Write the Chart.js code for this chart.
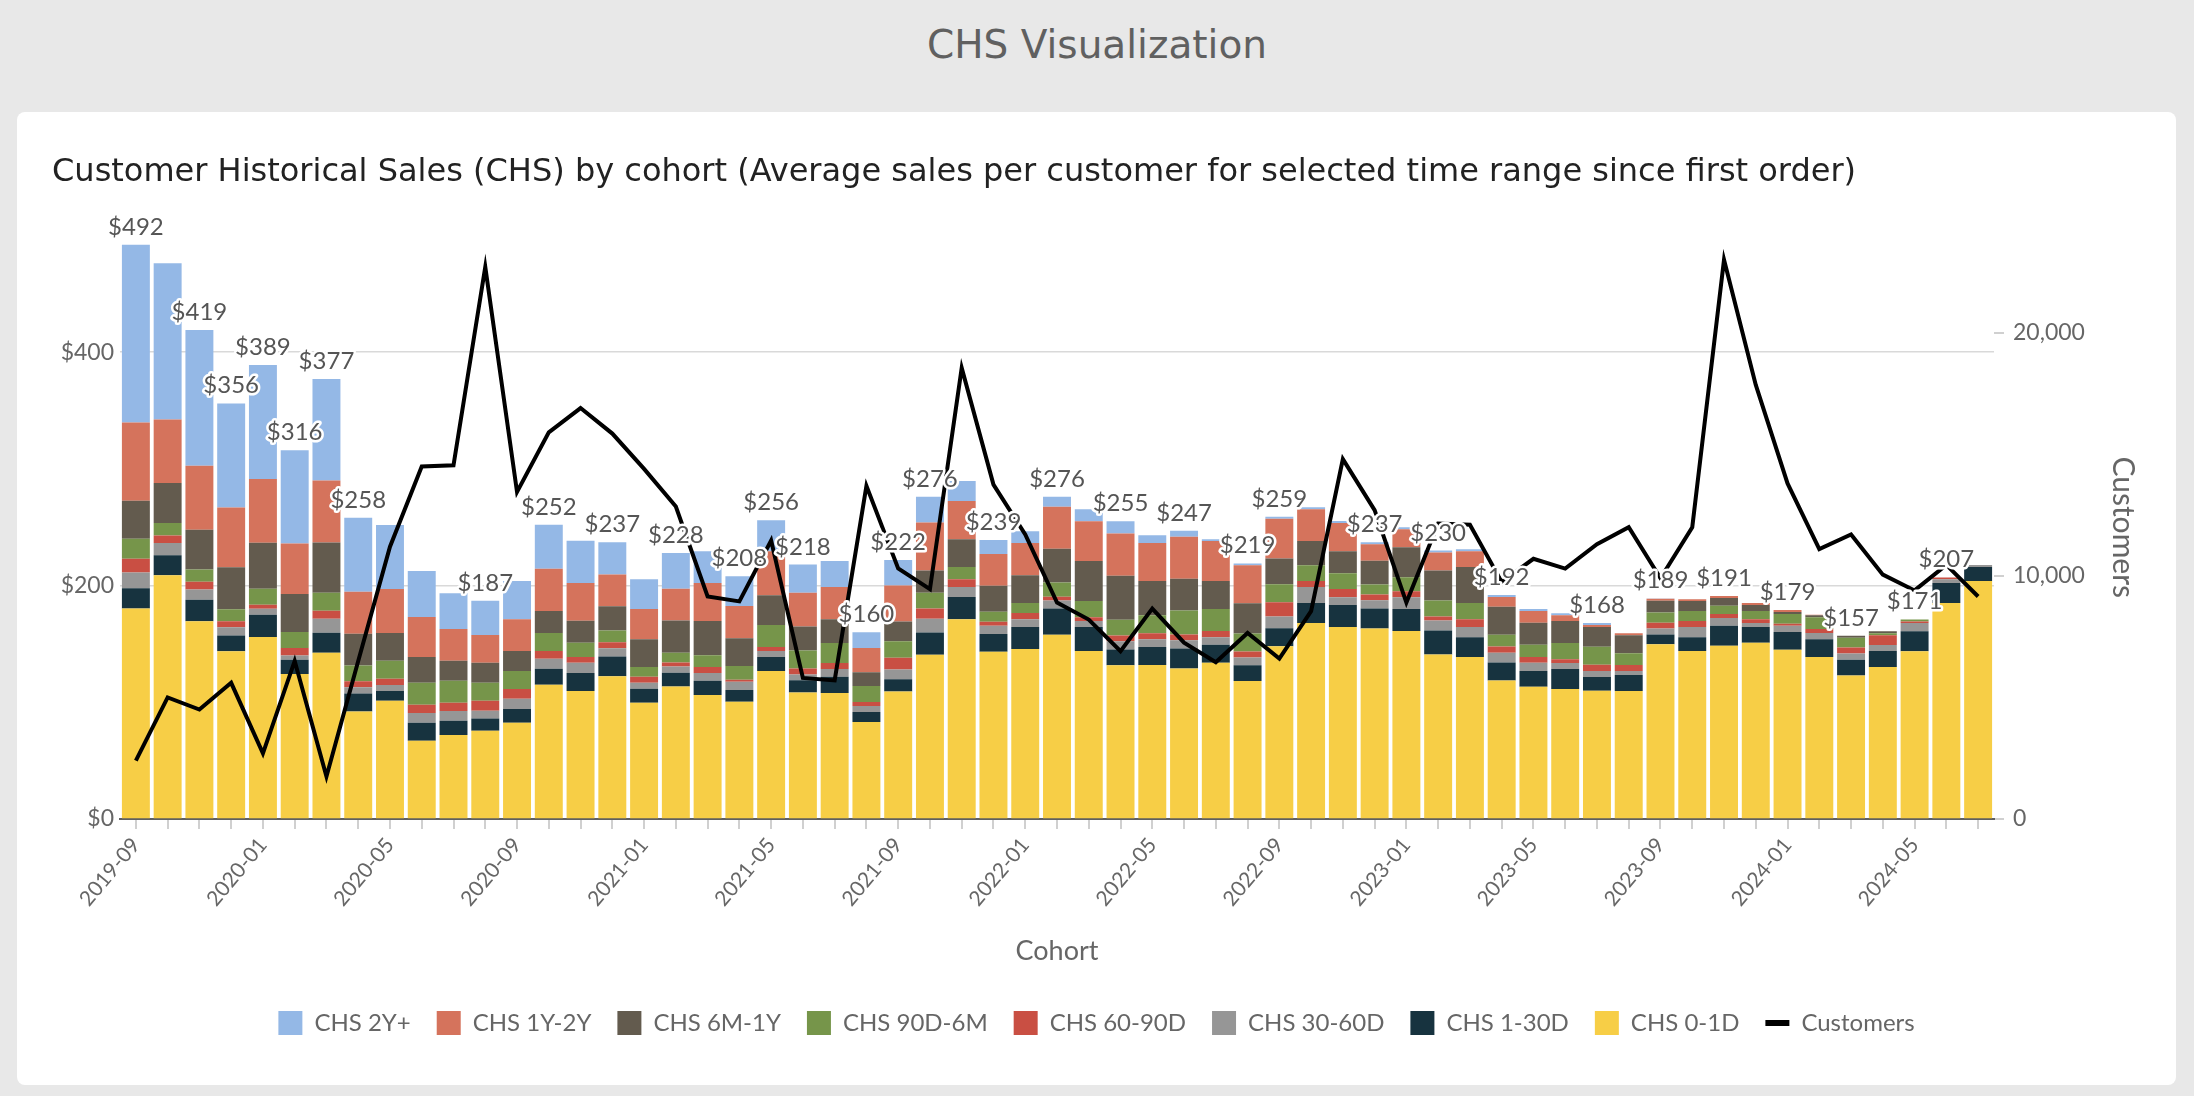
<!DOCTYPE html>
<html>
<head>
<meta charset="utf-8">
<script src="https://cdn.jsdelivr.net/npm/chart.js@4.4.1/dist/chart.umd.min.js"></script>
<style>
    html, body {
        margin: 0;
        padding: 0;
        background: #e8e8e8;
    }
    body {
        width: 2194px;
        height: 1096px;
        position: relative;
        overflow: hidden;
    }
    h1 {
        position: absolute;
        left: 0;
        top: 20px;
        width: 2194px;
        margin: 0;
        text-align: center;
        font-family: "DejaVu Sans", sans-serif;
        font-weight: 400;
        font-size: 39px;
        line-height: 50px;
        color: #606060;
    }
    .card {
        position: absolute;
        left: 17px;
        top: 112px;
        width: 2159px;
        height: 973px;
        background: #ffffff;
        border-radius: 8px;
    }
</style>
</head>
<body>
<h1>CHS Visualization</h1>
<div class="card">
    <canvas id="chsChart" width="2159" height="973"></canvas>
</div>
<script>
const cohorts = [
    "2019-09", "2019-10", "2019-11", "2019-12",
    "2020-01", "2020-02", "2020-03", "2020-04", "2020-05", "2020-06",
    "2020-07", "2020-08", "2020-09", "2020-10", "2020-11", "2020-12",
    "2021-01", "2021-02", "2021-03", "2021-04", "2021-05", "2021-06",
    "2021-07", "2021-08", "2021-09", "2021-10", "2021-11", "2021-12",
    "2022-01", "2022-02", "2022-03", "2022-04", "2022-05", "2022-06",
    "2022-07", "2022-08", "2022-09", "2022-10", "2022-11", "2022-12",
    "2023-01", "2023-02", "2023-03", "2023-04", "2023-05", "2023-06",
    "2023-07", "2023-08", "2023-09", "2023-10", "2023-11", "2023-12",
    "2024-01", "2024-02", "2024-03", "2024-04", "2024-05", "2024-06",
    "2024-07"
];

// average sales per customer, one array per age bucket
const chs2YPlus = [
    152.3, 133.8, 116.3, 89.1, 97.8, 80.0, 87.0, 63.2, 54.8, 39.5,
    30.7, 29.3, 32.8, 37.7, 36.0, 27.6, 25.5, 30.7, 27.2, 25.5,
    26.5, 24.1, 22.4, 13.6, 22.0, 22.0, 17.1, 11.9, 10.1, 8.4,
    10.1, 10.5, 6.6, 5.2, 1.4, 1.7, 1.7, 1.7, 1.7, 1.7,
    1.7, 1.7, 1.7, 1.7, 1.7, 1.7, 1.7, 0, 0.3, 0,
    0, 0, 0, 0, 0, 0, 0, 0, 0
];
const chs1Y2Y = [
    67.1, 54.5, 54.8, 51.3, 54.5, 43.3, 53.1, 36.0, 37.7, 34.2,
    27.2, 23.8, 27.2, 36.0, 32.5, 27.2, 25.8, 27.2, 32.5, 27.6,
    37.7, 29.0, 27.6, 20.6, 30.7, 41.2, 32.8, 27.2, 27.6, 36.0,
    34.2, 36.0, 32.5, 36.0, 34.2, 32.5, 34.2, 27.2, 24.1, 14.0,
    15.4, 15.4, 13.6, 8.4, 10.1, 4.9, 1.7, 1.7, 1.7, 1.4,
    1.7, 1.7, 1.7, 0.3, 0, 0, 0, 0, 0
];
const chs6M1Y = [
    32.5, 34.2, 34.2, 36.0, 39.5, 32.5, 43.0, 27.2, 23.8, 22.0,
    17.1, 17.1, 17.1, 18.9, 18.9, 20.6, 23.8, 27.6, 29.3, 23.8,
    25.5, 20.6, 20.3, 11.9, 17.1, 18.9, 23.8, 22.4, 23.8, 29.0,
    34.2, 37.7, 29.3, 27.2, 24.1, 25.8, 22.0, 20.6, 18.9, 20.3,
    25.8, 25.8, 30.7, 24.1, 18.9, 18.9, 17.1, 15.4, 10.1, 8.7,
    6.6, 5.2, 1.7, 1.7, 1.7, 1.7, 0, 0, 0
];
const chs90D6M = [
    17.1, 10.8, 10.5, 10.1, 13.6, 13.6, 15.4, 13.6, 15.4, 18.9,
    18.9, 15.4, 15.4, 15.4, 12.2, 10.1, 8.4, 8.4, 10.1, 11.9,
    18.9, 15.4, 17.1, 13.6, 14.0, 13.6, 10.5, 8.4, 8.7, 12.2,
    14.0, 13.6, 15.4, 20.6, 18.9, 15.4, 15.4, 13.6, 13.6, 8.7,
    11.9, 13.6, 14.0, 10.1, 10.5, 14.0, 15.4, 10.1, 8.7, 8.4,
    7.0, 7.0, 8.4, 10.1, 8.4, 1.7, 1.7, 0, 0
];
const chs60D90D = [
    11.9, 6.3, 6.6, 5.2, 3.5, 6.6, 7.0, 5.2, 5.2, 7.0,
    7.0, 8.7, 8.4, 6.6, 4.9, 5.2, 5.2, 3.5, 5.2, 1.7,
    3.5, 5.2, 5.2, 3.5, 10.1, 8.7, 6.6, 3.5, 5.2, 3.1,
    3.1, 4.9, 5.2, 4.9, 5.2, 5.2, 12.2, 5.2, 7.0, 4.9,
    5.2, 3.5, 6.6, 5.2, 4.9, 3.1, 5.2, 5.2, 4.9, 5.2,
    3.5, 3.1, 1.7, 3.5, 5.2, 8.4, 1.4, 1.7, 0
];
const chs30D60D = [
    13.3, 10.5, 8.7, 7.0, 5.2, 3.5, 11.9, 5.2, 5.2, 8.4,
    8.4, 6.6, 8.7, 8.7, 8.7, 7.0, 5.2, 5.2, 6.6, 7.0,
    5.2, 4.9, 6.6, 5.2, 8.4, 11.9, 8.7, 7.0, 6.6, 7.0,
    5.2, 7.0, 6.6, 7.0, 6.6, 6.6, 10.1, 13.6, 6.6, 7.0,
    10.1, 8.4, 8.7, 8.4, 7.0, 5.2, 5.2, 3.5, 5.2, 8.7,
    6.6, 3.5, 5.2, 5.2, 5.2, 5.2, 7.0, 3.1, 1.7
];
const chs1D30D = [
    17.5, 17.1, 18.5, 13.6, 18.9, 12.2, 17.1, 15.4, 8.4, 15.4,
    12.2, 10.5, 11.9, 13.6, 15.4, 17.1, 11.9, 11.9, 12.2, 10.1,
    11.9, 10.5, 14.0, 8.4, 10.5, 18.9, 18.9, 15.4, 18.9, 22.4,
    20.6, 13.6, 15.4, 17.1, 15.4, 13.6, 15.4, 17.1, 18.9, 17.1,
    18.9, 20.6, 17.1, 15.4, 13.6, 17.1, 11.9, 13.6, 8.4, 11.9,
    17.1, 13.6, 15.4, 15.4, 13.6, 13.6, 17.1, 17.1, 11.9
];
const chs0D1D = [
    180.3, 208.9, 169.4, 143.7, 156.0, 124.3, 142.5, 92.2, 101.3, 67.1,
    72.0, 75.6, 82.4, 115.1, 109.7, 122.2, 99.6, 113.5, 106.2, 100.4,
    126.8, 108.3, 107.9, 83.2, 109.2, 140.8, 171.2, 143.2, 145.7, 157.9,
    143.9, 131.7, 132.0, 129.0, 133.8, 118.2, 148.0, 168.0, 164.5, 163.3,
    161.0, 141.0, 138.7, 118.7, 113.2, 111.4, 109.8, 109.7, 149.7, 143.9,
    148.5, 150.9, 144.9, 138.7, 122.9, 130.3, 143.8, 185.1, 204.0
];

const customers = [
    2400, 5000, 4500, 5600, 2700, 6500, 1750, 6500, 11200, 14500,
    14550, 22700, 13450, 15900, 16900, 15850, 14400, 12850, 9150, 8950,
    11450, 5800, 5700, 13700, 10300, 9450, 18550, 13750, 11700, 8900,
    8200, 6900, 8650, 7250, 6450, 7650, 6600, 8550, 14800, 12700,
    8900, 12150, 12100, 9750, 10700, 10300, 11300, 12000, 9900, 12000,
    23000, 17850, 13800, 11100, 11700, 10050, 9400, 10450, 9150
];

// cohorts that carry a total label in the original chart
const labeledCohorts = [
    "2019-09", "2019-11", "2019-12", "2020-01", "2020-02", "2020-03",
    "2020-04", "2020-08", "2020-10", "2020-12", "2021-02", "2021-04",
    "2021-05", "2021-06", "2021-08", "2021-09", "2021-10", "2021-12",
    "2022-02", "2022-04", "2022-06", "2022-08", "2022-09", "2022-12",
    "2023-02", "2023-04", "2023-07", "2023-09", "2023-11", "2024-01",
    "2024-03", "2024-05", "2024-06"
];

const salesTicks = [0, 200, 400];
const customerTicks = [0, 10000, 20000];

const barSeries = [
    chs2YPlus, chs1Y2Y, chs6M1Y, chs90D6M,
    chs60D90D, chs30D60D, chs1D30D, chs0D1D
];

Chart.defaults.font.family = "Lato";
Chart.defaults.color = "#666666";

const totalLabels = {
    id: "totalLabels",
    afterDatasetsDraw(chart) {
        const ctx = chart.ctx;
        const yScale = chart.scales.y;
        const meta = chart.getDatasetMeta(0);
        ctx.save();
        ctx.font = "400 24px Lato";
        ctx.textAlign = "center";
        ctx.textBaseline = "alphabetic";
        ctx.lineJoin = "round";
        cohorts.forEach((cohort, i) => {
            if (!labeledCohorts.includes(cohort)) {
                return;
            }
            const total = barSeries.reduce((sum, arr) => sum + arr[i], 0);
            const x = meta.data[i].x;
            const y = yScale.getPixelForValue(total) - 10;
            const text = "$" + Math.round(total);
            ctx.strokeStyle = "#ffffff";
            ctx.lineWidth = 5;
            ctx.strokeText(text, x, y);
            ctx.fillStyle = "#555555";
            ctx.fillText(text, x, y);
        });
        ctx.restore();
    }
};

function barSet(label, data, color, order) {
    return {
        type: "bar",
        label: label,
        data: data,
        backgroundColor: color,
        borderWidth: 0,
        stack: "chs",
        yAxisID: "y",
        order: order,
        categoryPercentage: 1,
        barPercentage: 0.88
    };
}

new Chart(document.getElementById("chsChart"), {
    type: "bar",
    data: {
        labels: cohorts,
        datasets: [
            barSet("CHS 2Y+", chs2YPlus, "#94b8e6", 8),
            barSet("CHS 1Y-2Y", chs1Y2Y, "#d5735c", 7),
            barSet("CHS 6M-1Y", chs6M1Y, "#635b4e", 6),
            barSet("CHS 90D-6M", chs90D6M, "#76954a", 5),
            barSet("CHS 60-90D", chs60D90D, "#c94f43", 4),
            barSet("CHS 30-60D", chs30D60D, "#969696", 3),
            barSet("CHS 1-30D", chs1D30D, "#17333f", 2),
            barSet("CHS 0-1D", chs0D1D, "#f7ce46", 1),
            {
                type: "line",
                label: "Customers",
                data: customers,
                borderColor: "#000000",
                backgroundColor: "#000000",
                borderWidth: 4,
                pointRadius: 0,
                tension: 0,
                yAxisID: "y2",
                order: 0
            }
        ]
    },
    options: {
        responsive: false,
        animation: false,
        devicePixelRatio: 1,
        layout: {
            padding: { left: 35, right: 35, top: 0, bottom: 40 }
        },
        plugins: {
            tooltip: { enabled: false },
            title: {
                display: true,
                text: "Customer Historical Sales (CHS) by cohort (Average sales per customer for selected time range since first order)",
                align: "start",
                color: "#222222",
                font: { family: "DejaVu Sans", size: 32, weight: "400" },
                padding: { top: 41, bottom: 44 }
            },
            legend: {
                position: "bottom",
                labels: {
                    usePointStyle: true,
                    pointStyleWidth: 24,
                    boxHeight: 24,
                    padding: 26,
                    color: "#666666",
                    font: { size: 24 },
                    sort: (a, b) => a.datasetIndex - b.datasetIndex,
                    generateLabels(chart) {
                        const items = Chart.defaults.plugins.legend.labels.generateLabels(chart);
                        items.forEach(item => {
                            if (item.text === "Customers") {
                                item.pointStyle = "line";
                                item.lineWidth = 6;
                                item.strokeStyle = "#000000";
                            } else {
                                item.pointStyle = "rect";
                                item.lineWidth = 0;
                            }
                        });
                        return items;
                    }
                }
            }
        },
        scales: {
            x: {
                stacked: true,
                afterFit(scale) {
                    scale.height = 166;
                },
                grid: {
                    offset: false,
                    drawOnChartArea: false,
                    drawTicks: true,
                    tickLength: 10,
                    color: "#d0d0d0",
                    lineWidth: 2
                },
                border: { display: true, color: "#5f5f5f", width: 2 },
                ticks: {
                    autoSkip: false,
                    maxRotation: 50,
                    minRotation: 50,
                    padding: 4,
                    color: "#666666",
                    font: { size: 21 },
                    callback: (value, index) => index % 4 === 0 ? cohorts[index] : ""
                },
                title: {
                    display: true,
                    text: "Cohort",
                    color: "#666666",
                    font: { size: 27 },
                    padding: { top: 0, bottom: 18 }
                }
            },
            y: {
                stacked: true,
                position: "left",
                min: 0,
                max: 500,
                afterFit(scale) {
                    scale.width = 68;
                },
                afterBuildTicks(scale) {
                    scale.ticks = salesTicks.map(v => ({ value: v }));
                },
                grid: {
                    color: "#d9d9d9",
                    lineWidth: 1.5,
                    drawTicks: false
                },
                border: { display: false },
                ticks: {
                    padding: 6,
                    color: "#666666",
                    font: { size: 23 },
                    callback: value => "$" + value
                }
            },
            y2: {
                position: "right",
                min: 0,
                max: 24000,
                afterFit(scale) {
                    scale.width = 147;
                },
                afterBuildTicks(scale) {
                    scale.ticks = customerTicks.map(v => ({ value: v }));
                },
                grid: {
                    drawOnChartArea: false,
                    drawTicks: true,
                    tickLength: 10,
                    color: "#d0d0d0",
                    lineWidth: 2
                },
                border: { display: false },
                ticks: {
                    padding: 9,
                    color: "#666666",
                    font: { size: 23 },
                    callback: value => value.toLocaleString("en-US")
                },
                title: {
                    display: true,
                    text: "Customers",
                    color: "#666666",
                    font: { size: 30 },
                    padding: { top: 0, bottom: 0 }
                }
            }
        }
    },
    plugins: [totalLabels]
});
</script>
</body>
</html>
